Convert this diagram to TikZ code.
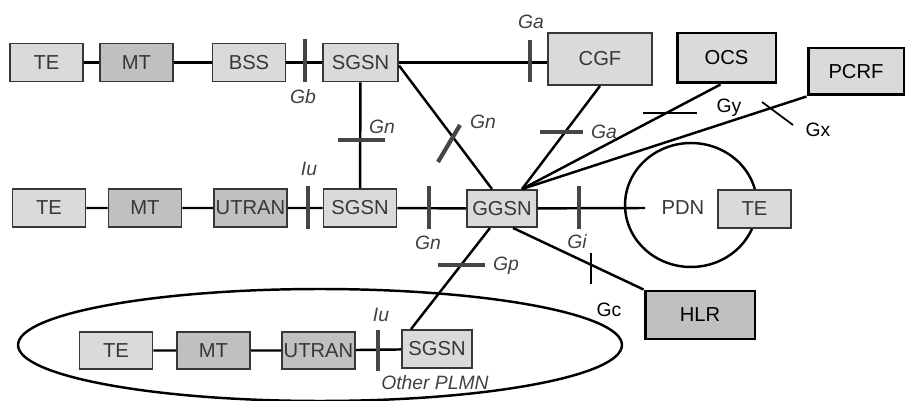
\documentclass[tikz,border=0pt]{standalone}
\usepackage{fontspec}
\setmainfont{Liberation Sans}
\usetikzlibrary{calc}
\definecolor{boxgray}{RGB}{218,218,218}
\definecolor{boxdark}{RGB}{192,192,192}
\definecolor{edgegray}{RGB}{55,55,55}
\definecolor{tickgray}{RGB}{70,70,70}
\definecolor{labgray}{RGB}{65,65,65}

\begin{document}
\begin{tikzpicture}[x=0.02cm, y=-0.02cm,
    box/.style={draw=edgegray, line width=1.1pt, fill=boxgray, inner sep=0pt,
                minimum width=1.46cm, minimum height=0.76cm, text=edgegray,
                font=\fontsize{11.5}{13}\selectfont},
    darkbox/.style={box, fill=boxdark},
    extbox/.style={box, draw=black, line width=1.7pt, text=black,
                   font=\fontsize{11.5}{13}\selectfont},
    link/.style={line width=1.4pt},
    bar/.style={draw=tickgray, line width=2.4pt},
    iface/.style={text=labgray, inner sep=0pt, font=\fontsize{11}{13}\selectfont\itshape},
    ifaceup/.style={text=black, inner sep=0pt, font=\fontsize{11}{13}\selectfont}]
  \useasboundingbox (0,0) rectangle (905,401);

  % PDN cloud and other PLMN
  \draw[link] (691,205) ellipse [x radius=1.32cm, y radius=1.24cm];
  \draw[link] (320,345) ellipse [x radius=6.04cm, y radius=1.12cm];

  % top row
  \node[box] (te1) at (46.5,62.5) {TE};
  \node[darkbox] (mt1) at (136.5,62.5) {MT};
  \node[box] (bss) at (249,62.5) {BSS};
  \node[box, minimum width=1.5cm] (sgsn1) at (360.5,62.5) {SGSN};
  \node[box, minimum width=2.08cm, minimum height=1.04cm] (cgf) at (600,59) {CGF};
  \node[extbox, minimum width=1.98cm, minimum height=1.0cm] (ocs) at (726.5,58) {OCS};
  \node[extbox, minimum width=1.92cm, minimum height=0.94cm] (pcrf) at (856,71.5) {PCRF};

  % middle row
  \node[box] (te2) at (49,208) {TE};
  \node[darkbox] (mt2) at (145,208) {MT};
  \node[darkbox] (utran1) at (250.5,208) {UTRAN};
  \node[box] (sgsn2) at (360,208) {SGSN};
  \node[box, minimum width=1.4cm, minimum height=0.74cm] (ggsn) at (502,208.5) {GGSN};
  \node[text=edgegray, font=\fontsize{11.5}{13}\selectfont] (pdn) at (683,208) {PDN};
  \node[box] (te3) at (754.5,209) {TE};
  \node[extbox, fill=boxdark, minimum width=2.2cm, minimum height=0.96cm] (hlr) at (700,315) {HLR};

  % bottom row
  \node[box, minimum height=0.74cm] (te4) at (116,350.5) {TE};
  \node[darkbox, minimum height=0.74cm] (mt4) at (213.5,350.5) {MT};
  \node[darkbox, minimum height=0.74cm] (utran2) at (318.5,350.5) {UTRAN};
  \node[box, minimum width=1.4cm] (sgsn3) at (437,349) {SGSN};

  \coordinate (hub) at ($(ggsn.north)+(20,0)$);
  \coordinate (pdnin) at (645,208);

  \draw[link] (te1) -- (mt1) (mt1) -- (bss) (bss) -- (sgsn1);
  \draw[link] (sgsn1.east) -- (sgsn1.east -| cgf.west);
  \draw[link] (sgsn1) -- (sgsn2);
  \draw[link] ($(sgsn1.east)+(0,3)$) -- ($(ggsn.north)+(-10,0)$);
  \draw[link] (te2) -- (mt2) (mt2) -- (utran1) (utran1) -- (sgsn2) (sgsn2) -- (ggsn);
  \draw[link] (ggsn) -- (pdnin);
  \draw[link] (cgf.south) -- (hub);
  \draw[link] ($(ocs.south)+(-6,0)$) -- (hub);
  \draw[link] (pcrf.south west) -- (hub);
  \draw[link] ($(ggsn.south)+(11,0)$) -- (hlr.north west);
  \draw[link] ($(ggsn.south)+(-12,0)$) -- ($(sgsn3.north west)+(10,0)$);
  \draw[link] (te4) -- (mt4) (mt4) -- (utran2) (utran2) -- (sgsn3);

  % interface bars
  \draw[bar] (305,39) -- (305,82);
  \draw[bar] (530,40) -- (530,82);
  \draw[bar] (338,140) -- (385,140);
  \draw[bar] (438,162) -- (460,125);
  \draw[bar] (540,132) -- (583,132);
  \draw[link] (643,113) -- (697,113);
  \draw[link, line width=1pt] (762,102) -- (793,125);
  \draw[bar] (308,186) -- (308,229);
  \draw[bar] (429,186) -- (429,229);
  \draw[bar] (579,186) -- (579,229);
  \draw[link] (591,253) -- (591,284);
  \draw[bar] (438,265) -- (485,265);
  \draw[bar] (378,330) -- (378,371);

  % interface labels
  \node[iface] (gb) at (303,97) {Gb};
  \node[iface] (ga1) at (531,22) {Ga};
  \node[iface] (gn1) at (382,127) {Gn};
  \node[iface] (gn2) at (483,122) {Gn};
  \node[iface] (ga2) at (604,132) {Ga};
  \node[iface] (iu1) at (309,169) {Iu};
  \node[iface] (gn3) at (428,243) {Gn};
  \node[iface] (gi) at (577,242) {Gi};
  \node[iface] (gp) at (506,266) {Gp};
  \node[iface] (iu2) at (381,315) {Iu};
  \node[iface] (plmn) at (435,383) {Other PLMN};
  \node[ifaceup] (gy) at (729,108) {Gy};
  \node[ifaceup] (gx) at (818,130) {Gx};
  \node[ifaceup] (gc) at (609,310) {Gc};
\end{tikzpicture}
\end{document}
